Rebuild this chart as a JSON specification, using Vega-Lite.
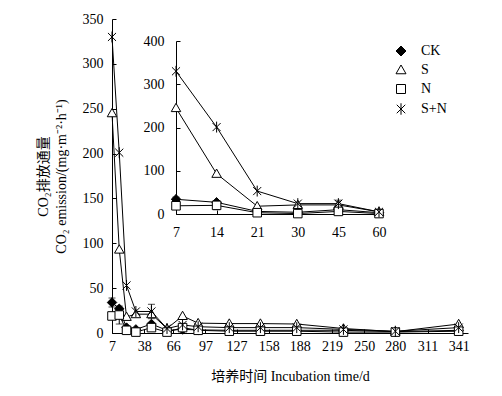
{
  "$schema": "https://vega.github.io/schema/vega-lite/v6.json",
  "width": 356,
  "height": 314,
  "autosize": {"type": "none"},
  "padding": {"left": 112, "top": 19, "right": 34, "bottom": 63},
  "background": "white",
  "config": {
    "view": {"stroke": null},
    "axis": {
      "grid": false,
      "domainColor": "black",
      "domainWidth": 1,
      "tickColor": "black",
      "tickWidth": 1,
      "tickSize": -4,
      "labelColor": "black",
      "titleColor": "black",
      "labelFont": "Times New Roman",
      "labelFontSize": 14,
      "titleFont": "Times New Roman, Noto Sans CJK SC",
      "titleFontSize": 14,
      "titleFontWeight": "normal",
      "labelFlush": false,
      "labelOverlap": false
    },
    "legend": {
      "labelFont": "Times New Roman",
      "labelFontSize": 14,
      "labelColor": "black"
    }
  },
  "data": {
    "values": [
      {"treatment": "CK", "day": 7, "value": 34, "sd": 5},
      {"treatment": "CK", "day": 14, "value": 27},
      {"treatment": "CK", "day": 21, "value": 6},
      {"treatment": "CK", "day": 30, "value": 4},
      {"treatment": "CK", "day": 45, "value": 10},
      {"treatment": "CK", "day": 60, "value": 3},
      {"treatment": "CK", "day": 75, "value": 4},
      {"treatment": "CK", "day": 90, "value": 3.5},
      {"treatment": "CK", "day": 120, "value": 3},
      {"treatment": "CK", "day": 150, "value": 3},
      {"treatment": "CK", "day": 185, "value": 3},
      {"treatment": "CK", "day": 230, "value": 3},
      {"treatment": "CK", "day": 280, "value": 1.5},
      {"treatment": "CK", "day": 341, "value": 3},
      {"treatment": "S", "day": 7, "value": 245},
      {"treatment": "S", "day": 14, "value": 93},
      {"treatment": "S", "day": 21, "value": 18},
      {"treatment": "S", "day": 30, "value": 21},
      {"treatment": "S", "day": 45, "value": 21},
      {"treatment": "S", "day": 60, "value": 5},
      {"treatment": "S", "day": 75, "value": 19},
      {"treatment": "S", "day": 90, "value": 11},
      {"treatment": "S", "day": 120, "value": 10.5},
      {"treatment": "S", "day": 150, "value": 10.5},
      {"treatment": "S", "day": 185, "value": 10},
      {"treatment": "S", "day": 230, "value": 5},
      {"treatment": "S", "day": 280, "value": 1.5},
      {"treatment": "S", "day": 341, "value": 10},
      {"treatment": "N", "day": 7, "value": 19, "sd": 4},
      {"treatment": "N", "day": 14, "value": 20, "sd": 10},
      {"treatment": "N", "day": 21, "value": 3},
      {"treatment": "N", "day": 30, "value": 1},
      {"treatment": "N", "day": 45, "value": 6},
      {"treatment": "N", "day": 60, "value": 1},
      {"treatment": "N", "day": 75, "value": 6},
      {"treatment": "N", "day": 90, "value": 3},
      {"treatment": "N", "day": 120, "value": 2},
      {"treatment": "N", "day": 150, "value": 2},
      {"treatment": "N", "day": 185, "value": 2},
      {"treatment": "N", "day": 230, "value": 1},
      {"treatment": "N", "day": 280, "value": 1},
      {"treatment": "N", "day": 341, "value": 2},
      {"treatment": "S+N", "day": 7, "value": 330},
      {"treatment": "S+N", "day": 14, "value": 201},
      {"treatment": "S+N", "day": 21, "value": 53},
      {"treatment": "S+N", "day": 30, "value": 24},
      {"treatment": "S+N", "day": 45, "value": 24, "sd": 8},
      {"treatment": "S+N", "day": 60, "value": 5},
      {"treatment": "S+N", "day": 75, "value": 9},
      {"treatment": "S+N", "day": 90, "value": 7},
      {"treatment": "S+N", "day": 120, "value": 6},
      {"treatment": "S+N", "day": 150, "value": 6},
      {"treatment": "S+N", "day": 185, "value": 6},
      {"treatment": "S+N", "day": 230, "value": 4},
      {"treatment": "S+N", "day": 280, "value": 2},
      {"treatment": "S+N", "day": 341, "value": 6}
    ]
  },
  "layer": [
    {
      "encoding": {
        "x": {
          "field": "day",
          "type": "quantitative",
          "scale": {"domain": [7, 350], "nice": false, "zero": false},
          "axis": {
            "values": [7, 38, 66, 97, 127, 158, 188, 219, 250, 280, 311, 341],
            "title": "培养时间 Incubation time/d",
            "labelPadding": 10,
            "titlePadding": 16
          }
        },
        "y": {
          "field": "value",
          "type": "quantitative",
          "scale": {"domain": [0, 350], "nice": false},
          "axis": {
            "values": [0, 50, 100, 150, 200, 250, 300, 350],
            "title": ["CO₂排放通量", "CO₂ emission/(mg·m⁻²·h⁻¹)"],
            "titleLineHeight": 18,
            "labelPadding": 13,
            "titlePadding": 14
          }
        }
      },
      "layer": [
        {
          "mark": {"type": "line", "color": "black", "strokeWidth": 1},
          "encoding": {"detail": {"field": "treatment", "type": "nominal"}}
        },
        {
          "transform": [{"filter": "isValid(datum.sd)"}],
          "mark": {"type": "errorbar", "color": "black", "ticks": {"size": 7, "color": "black"}, "rule": {"color": "black"}},
          "encoding": {"yError": {"field": "sd"}}
        },
        {
          "mark": {"type": "point", "filled": true, "size": 90, "strokeWidth": 1, "opacity": 1},
          "encoding": {
            "shape": {
              "field": "treatment",
              "type": "nominal",
              "scale": {
                "domain": ["CK", "S", "N", "S+N"],
                "range": [
                  "M0,-1L1,0L0,1L-1,0Z",
                  "M0,-1L1,0.75L-1,0.75Z",
                  "M-0.9,-0.9L0.9,-0.9L0.9,0.9L-0.9,0.9Z",
                  "M-0.85,-0.85L0.85,0.85M-0.85,0.85L0.85,-0.85M0,-1.15L0,1.15"
                ]
              },
              "legend": {
                "title": null,
                "orient": "none",
                "legendX": 282,
                "legendY": 25,
                "padding": 0,
                "symbolSize": 100,
                "symbolStrokeWidth": 1,
                "labelOffset": 13,
                "rowPadding": 5
              }
            },
            "fill": {
              "field": "treatment",
              "type": "nominal",
              "scale": {"domain": ["CK", "S", "N", "S+N"], "range": ["black", "white", "white", "white"]},
              "legend": {
                "title": null,
                "orient": "none",
                "legendX": 282,
                "legendY": 25,
                "padding": 0,
                "symbolSize": 100,
                "symbolStrokeWidth": 1,
                "labelOffset": 13,
                "rowPadding": 5
              }
            },
            "stroke": {
              "field": "treatment",
              "type": "nominal",
              "scale": {"domain": ["CK", "S", "N", "S+N"], "range": ["black", "black", "black", "black"]},
              "legend": {
                "title": null,
                "orient": "none",
                "legendX": 282,
                "legendY": 25,
                "padding": 0,
                "symbolSize": 100,
                "symbolStrokeWidth": 1,
                "labelOffset": 13,
                "rowPadding": 5
              }
            }
          }
        }
      ]
    },
    {
      "transform": [{"filter": "datum.day <= 60"}],
      "encoding": {
        "x": {
          "field": "day",
          "type": "ordinal",
          "scale": {"type": "point", "range": [64, 267], "padding": 0, "align": 0.5},
          "axis": {"orient": "bottom", "offset": -119, "title": null, "labelAngle": 0, "labelPadding": 15}
        },
        "y": {
          "field": "value",
          "type": "quantitative",
          "scale": {"domain": [0, 400], "range": [195, 22], "nice": false},
          "axis": {"orient": "left", "offset": -64, "values": [0, 100, 200, 300, 400], "title": null, "labelPadding": 16}
        }
      },
      "layer": [
        {
          "mark": {"type": "line", "color": "black", "strokeWidth": 1},
          "encoding": {"detail": {"field": "treatment", "type": "nominal"}}
        },
        {
          "transform": [{"filter": "isValid(datum.sd)"}],
          "mark": {"type": "errorbar", "color": "black", "ticks": {"size": 7, "color": "black"}, "rule": {"color": "black"}},
          "encoding": {"yError": {"field": "sd"}}
        },
        {
          "mark": {"type": "point", "filled": true, "size": 90, "strokeWidth": 1, "opacity": 1},
          "encoding": {
            "shape": {"field": "treatment", "type": "nominal", "legend": null},
            "fill": {"field": "treatment", "type": "nominal", "legend": null},
            "stroke": {"field": "treatment", "type": "nominal", "legend": null}
          }
        }
      ]
    }
  ],
  "resolve": {"scale": {"x": "independent", "y": "independent"}}
}
